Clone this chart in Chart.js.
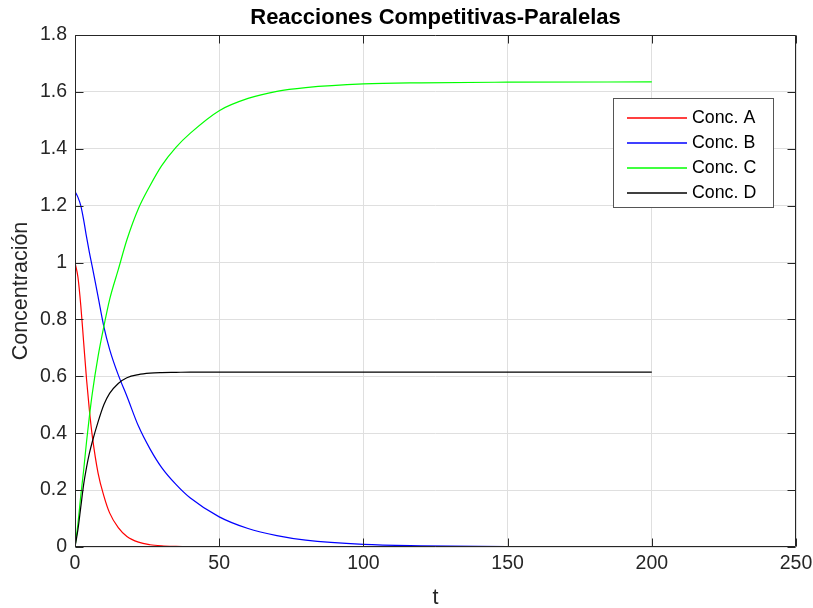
<!DOCTYPE html>
<html>
<head>
<meta charset="utf-8">
<script src="https://cdn.jsdelivr.net/npm/chart.js@4.4.1/dist/chart.umd.min.js"></script>
<style>
  html, body { margin: 0; padding: 0; background: #fff; }
</style>
</head>
<body>
<canvas id="chart" width="813" height="608"></canvas>
<script>
// values
const tValues = [0, 1, 2, 3, 4, 5, 6, 8, 10, 12, 15, 18, 22, 26, 30, 35, 40, 50, 60, 70, 80, 100, 120, 150, 200];
const concA = [1.0, 0.95, 0.85, 0.72, 0.59, 0.48, 0.39, 0.26, 0.18, 0.12, 0.068, 0.037, 0.017, 0.008, 0.004, 0.002, 0.001, 0.0003, 0.0001, 0, 0, 0, 0, 0, 0];
const concB = [1.25, 1.23, 1.2, 1.15, 1.09, 1.035, 0.985, 0.88, 0.775, 0.695, 0.605, 0.53, 0.425, 0.345, 0.28, 0.22, 0.172, 0.106, 0.065, 0.04, 0.024, 0.009, 0.004, 0.001, 0.0001];
const concC = [0, 0.08, 0.18, 0.27, 0.37, 0.46, 0.54, 0.67, 0.775, 0.87, 0.975, 1.08, 1.19, 1.27, 1.34, 1.405, 1.455, 1.534, 1.577, 1.602, 1.615, 1.628, 1.632, 1.634, 1.635];
const concD = [0, 0.06, 0.14, 0.22, 0.28, 0.33, 0.37, 0.44, 0.5, 0.54, 0.575, 0.595, 0.606, 0.611, 0.613, 0.614, 0.615, 0.615, 0.615, 0.615, 0.615, 0.615, 0.615, 0.615, 0.615];

const seriesLabels = ['Conc. A', 'Conc. B', 'Conc. C', 'Conc. D'];
const seriesColors = ['#ff0000', '#0000ff', '#00ff00', '#000000'];
const xTicks = [0, 50, 100, 150, 200, 250];
const yTicks = [0, 0.2, 0.4, 0.6, 0.8, 1, 1.2, 1.4, 1.6, 1.8];

const FONT = "'Liberation Sans', Arial, Helvetica, sans-serif";
const AXIS_COLOR = '#262626';

function toPoints(ys) {
    return tValues.map((t, i) => ({x: t, y: ys[i]}));
}

// MATLAB-like box with inward ticks on all four sides
const axesBox = {
    id: 'axesBox',
    afterDatasetsDraw(chart) {
        const {ctx, chartArea: a, scales: {x, y}} = chart;
        const L = Math.round(a.left) + 0.5, R = Math.round(a.right) - 0.5;
        const T = Math.round(a.top) + 0.5, B = Math.round(a.bottom) - 0.5;
        const tick = 8;
        ctx.save();
        ctx.strokeStyle = AXIS_COLOR;
        ctx.lineWidth = 1;
        ctx.beginPath();
        ctx.rect(L, T, R - L, B - T);
        xTicks.forEach(v => {
            const px = Math.round(x.getPixelForValue(v)) + 0.5;
            ctx.moveTo(px, B); ctx.lineTo(px, B - tick);
            ctx.moveTo(px, T); ctx.lineTo(px, T + tick);
        });
        yTicks.forEach(v => {
            const py = Math.round(y.getPixelForValue(v)) + 0.5;
            ctx.moveTo(L, py); ctx.lineTo(L + tick, py);
            ctx.moveTo(R, py); ctx.lineTo(R - tick, py);
        });
        ctx.stroke();
        ctx.restore();
    }
};

// legend box inside the axes, upper right
const insideLegend = {
    id: 'insideLegend',
    afterDraw(chart) {
        const {ctx, chartArea: a} = chart;
        const w = 160, h = 109;
        const left = Math.round(a.right - 23 - w) + 0.5;
        const top = Math.round(a.top + 63) + 0.5;
        ctx.save();
        ctx.fillStyle = '#fff';
        ctx.fillRect(left, top, w, h);
        ctx.strokeStyle = '#555';
        ctx.lineWidth = 1;
        ctx.strokeRect(left, top, w, h);
        ctx.font = '17.8px ' + FONT;
        ctx.textBaseline = 'middle';
        ctx.textAlign = 'left';
        seriesLabels.forEach((label, i) => {
            const cy = top + 19.5 + i * 25;
            ctx.strokeStyle = seriesColors[i];
            ctx.lineWidth = 1.3;
            ctx.beginPath();
            ctx.moveTo(left + 13.5, Math.round(cy));
            ctx.lineTo(left + 73.5, Math.round(cy));
            ctx.stroke();
            ctx.fillStyle = '#000';
            ctx.fillText(label, left + 78.5, cy);
        });
        ctx.restore();
    }
};

Chart.defaults.font.family = FONT;
Chart.defaults.color = AXIS_COLOR;

new Chart(document.getElementById('chart').getContext('2d'), {
    type: 'line',
    data: {
        datasets: [concA, concB, concC, concD].map((ys, i) => ({
            label: seriesLabels[i],
            data: toPoints(ys),
            borderColor: seriesColors[i],
            backgroundColor: seriesColors[i],
            borderWidth: 1.2,
            pointRadius: 0,
            cubicInterpolationMode: 'monotone',
            fill: false,
            order: 4 - i
        }))
    },
    options: {
        responsive: false,
        animation: false,
        layout: {padding: {left: 0, right: 17, top: 0, bottom: 0}},
        scales: {
            x: {
                type: 'linear',
                min: 0,
                max: 250,
                afterFit: s => { s.height = 61; s.paddingLeft = 0; s.paddingRight = 0; },
                afterBuildTicks: s => { s.ticks = xTicks.map(v => ({value: v})); },
                grid: {color: '#dfdfdf', drawTicks: false},
                border: {display: false},
                ticks: {
                    font: {size: 19.5},
                    color: AXIS_COLOR,
                    padding: 5,
                    maxRotation: 0
                },
                title: {
                    display: true,
                    text: 't',
                    font: {size: 21.5, lineHeight: 1},
                    color: AXIS_COLOR,
                    padding: {top: 0, bottom: -1}
                }
            },
            y: {
                type: 'linear',
                min: 0,
                max: 1.8,
                afterFit: s => { s.width = 75; s.paddingTop = 0; s.paddingBottom = 0; },
                afterBuildTicks: s => { s.ticks = yTicks.map(v => ({value: v})); },
                grid: {color: '#dfdfdf', drawTicks: false},
                border: {display: false},
                ticks: {
                    font: {size: 19.5},
                    color: AXIS_COLOR,
                    padding: 8,
                    callback: v => String(+v.toFixed(1))
                },
                title: {
                    display: true,
                    text: 'Concentración',
                    font: {size: 21.5, lineHeight: 1},
                    color: AXIS_COLOR,
                    padding: {top: 10, bottom: 0}
                }
            }
        },
        plugins: {
            legend: {display: false},
            tooltip: {enabled: false},
            title: {
                display: true,
                text: 'Reacciones Competitivas-Paralelas',
                fullSize: false,
                color: '#000',
                font: {size: 22, weight: 'bold', lineHeight: 1},
                padding: {top: 6.5, bottom: 6.5}
            }
        }
    },
    plugins: [axesBox, insideLegend]
});
</script>
</body>
</html>
